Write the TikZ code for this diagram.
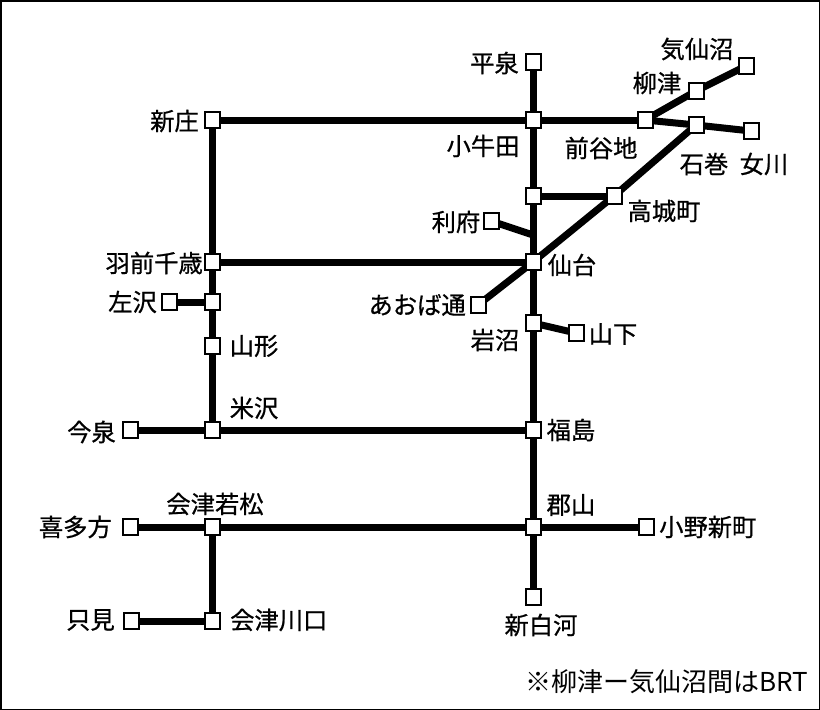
\documentclass[tikz,border=0pt]{standalone}
\usepackage{fontspec}
\setmainfont{Noto Sans CJK JP}
\newfontfamily\labfont[FakeBold=0.7]{Noto Sans CJK JP}
\pgfdeclarelayer{rails}
\pgfsetlayers{rails,main}
\tikzset{
  sta/.style={draw=black, fill=white, line width=2pt, minimum width=15pt, minimum height=16pt, inner sep=0pt},
  rail/.style={line width=7pt, black},
  lab/.style={font=\fontsize{24.3}{24.3}\selectfont\labfont, inner sep=0pt},
  foot/.style={font=\fontsize{26}{26}\selectfont, inner sep=0pt}
}
\begin{document}
\begin{tikzpicture}[x=1pt, y=-1pt]
\useasboundingbox (0,0) rectangle (820,710);
\draw[line width=1.5pt] (0.75,0.75) rectangle (819.25,709.25);
% stations
\node[sta] (hiraizumi) at (533,62) {};
\node[sta] (kogota) at (533,120) {};
\node[sta] (shinjo) at (212,120) {};
\node[sta] (maeyachi) at (645,120) {};
\node[sta] (yanaizu) at (696,91) {};
\node[sta] (kesennuma) at (746,66) {};
\node[sta] (ishinomaki) at (696,125) {};
\node[sta] (onagawa) at (751,131) {};
\node[sta] (matsushima) at (533,196) {};
\node[sta] (takagi) at (614,196) {};
\node[sta] (rifu) at (491,221) {};
\coordinate (iwakiri) at (533,235);
\node[sta] (sendai) at (533,262) {};
\node[sta] (uzen) at (212,262) {};
\node[sta] (aoba) at (478,305) {};
\node[sta] (iwanuma) at (533,323) {};
\node[sta] (yamashita) at (576,333) {};
\node[sta] (aterazawa) at (169,302) {};
\node[sta] (kita) at (212,302) {};
\node[sta] (yamagata) at (212,346) {};
\node[sta] (yonezawa) at (212,430) {};
\node[sta] (imaizumi) at (130,430) {};
\node[sta] (fukushima) at (533,430) {};
\node[sta] (koriyama) at (533,527) {};
\node[sta] (ono) at (646,527) {};
\node[sta] (shirakawa) at (533,597) {};
\node[sta] (aizu) at (212,527) {};
\node[sta] (kitakata) at (130,527) {};
\node[sta] (kawaguchi) at (212,621) {};
\node[sta] (tadami) at (131,621) {};
% lines
\begin{pgfonlayer}{rails}
\draw[rail] (hiraizumi.center) -- (shirakawa.center);
\draw[rail] (shinjo.center) -- (maeyachi.center);
\draw[rail] (shinjo.center) -- (yonezawa.center);
\draw[rail] (maeyachi.center) -- (yanaizu.center) -- (kesennuma.center);
\draw[rail] (maeyachi.center) -- (ishinomaki.center) -- (onagawa.center);
\draw[rail] (aoba.center) -- (sendai.center) -- (takagi.center) -- (ishinomaki.center);
\draw[rail] (matsushima.center) -- (takagi.center);
\draw[rail] (rifu.center) -- (iwakiri);
\draw[rail] (uzen.center) -- (sendai.center);
\draw[rail] (iwanuma.center) -- (yamashita.center);
\draw[rail] (aterazawa.center) -- (kita.center);
\draw[rail] (imaizumi.center) -- (fukushima.center);
\draw[rail] (kitakata.center) -- (ono.center);
\draw[rail] (aizu.center) -- (kawaguchi.center);
\draw[rail] (tadami.center) -- (kawaguchi.center);
\end{pgfonlayer}
% labels
\node[lab, anchor=east] (lhiraizumi) at (519,63) {平泉};
\node[lab] (lkogota) at (483,146) {小牛田};
\node[lab, anchor=east] (lshinjo) at (199,121) {新庄};
\node[lab] (lmaeyachi) at (601,148) {前谷地};
\node[lab] (lyanaizu) at (657,83) {柳津};
\node[lab] (lkesennuma) at (697,49) {気仙沼};
\node[lab] (lishinomaki) at (704,164) {石巻};
\node[lab] (lonagawa) at (764,164) {女川};
\node[lab] (ltakagi) at (664,211) {高城町};
\node[lab] (lrifu) at (456,222) {利府};
\node[lab] (lsendai) at (572,265) {仙台};
\node[lab, anchor=east] (luzen) at (203,263) {羽前千歳};
\node[lab, anchor=east] (laoba) at (466,305) {あおば通};
\node[lab] (liwanuma) at (495,340) {岩沼};
\node[lab] (lyamashita) at (613,334) {山下};
\node[lab, anchor=east] (laterazawa) at (157,302) {左沢};
\node[lab] (lyamagata) at (254,346) {山形};
\node[lab] (lyonezawa) at (254,408) {米沢};
\node[lab, anchor=east] (limaizumi) at (116,432) {今泉};
\node[lab] (lfukushima) at (571,430) {福島};
\node[lab] (lkoriyama) at (571,505) {郡山};
\node[lab, anchor=west] (lono) at (659,527) {小野新町};
\node[lab] (lshirakawa) at (541,625) {新白河};
\node[lab] (laizu) at (215,504) {会津若松};
\node[lab, anchor=east] (lkitakata) at (112,527) {喜多方};
\node[lab, anchor=east] (ltadami) at (115,620) {只見};
\node[lab, anchor=west] (lkawaguchi) at (230,620) {会津川口};
\node[foot, anchor=east] (lnote) at (808,682) {※柳津ー気仙沼間はBRT};
\end{tikzpicture}
\end{document}
